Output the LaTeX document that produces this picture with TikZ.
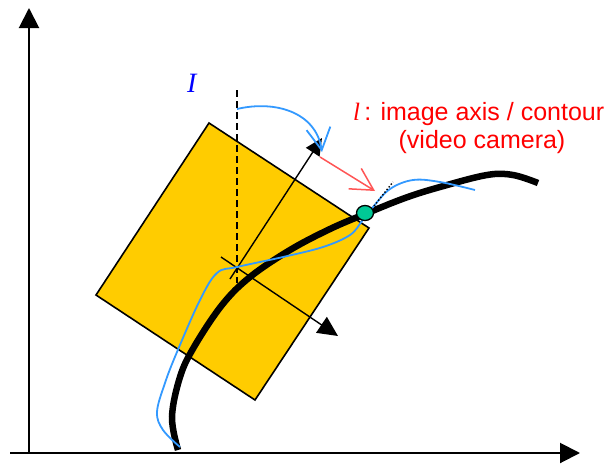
\documentclass[tikz,border=0pt]{standalone}
\usepackage{fontspec}
\setmainfont{Liberation Sans}
\newfontfamily\serifit{Liberation Serif}
\usetikzlibrary{arrows.meta,shapes.geometric}
\definecolor{rectyellow}{HTML}{FFCC00}
\definecolor{curveblue}{HTML}{3399FF}
\definecolor{dotgreen}{HTML}{00C896}
\definecolor{arrred}{HTML}{FF5555}
\begin{document}
\begin{tikzpicture}[x=1pt,y=-1pt,
  mainaxis/.style={line width=2pt,-{Triangle[length=20pt,width=20pt]}},
  camaxis/.style={line width=1.4pt},
  bigcurve/.style={line width=6.5pt},
  bluecurve/.style={curveblue,line width=1.8pt},
  lbl/.style={inner sep=0pt,font=\fontsize{25}{30}\selectfont}]
\useasboundingbox (0,0) rectangle (610,463);
% main axes
\coordinate (origin) at (29,453);
\coordinate (xstart) at (10,453);
\coordinate (xend) at (580,453);
\coordinate (yend) at (29,8);
\draw[mainaxis] (xstart) -- (xend);
\draw[mainaxis] (origin) -- (yend);
% rotated image plane
\coordinate (rt) at (209,123);
\coordinate (rr) at (369,228);
\coordinate (rb) at (255,400);
\coordinate (rl) at (96,295);
\draw[line width=1.6pt,fill=rectyellow] (rt) -- (rr) -- (rb) -- (rl) -- cycle;
% dashed vertical
\coordinate (dtop) at (237,90);
\coordinate (dbot) at (237,283);
\draw[line width=1.4pt,dash pattern=on 7pt off 4pt] (dtop) -- (dbot);
% camera axes
\coordinate (cross) at (237,268);
\coordinate (ua0) at (230,279);
\coordinate (ua1) at (322,138);
\coordinate (la0) at (221,257);
\coordinate (la1) at (338,336);
\draw[camaxis,-{Triangle[length=17pt,width=16pt]}] (ua0) -- (ua1);
\draw[camaxis,-{Triangle[length=20pt,width=19pt]}] (la0) -- (la1);
% thick contour
\draw[bigcurve] plot[smooth,tension=0.6] coordinates {(178,450) (172,417) (180,377) (194,347) (222,305) (250,277) (290,250) (330,229) (365,214) (405,198) (440,187) (487,175) (513,175) (538,183)};
% blue curve
\draw[bluecurve] plot[smooth,tension=0.6] coordinates {(180,447) (163,430) (157,412) (165,383) (177,352) (200,300) (217,273) (237,267) (283,257) (323,247) (350,235) (362,221) (373,207) (390,189) (413,180) (440,182) (475,190)};
% contact point
\node[draw,line width=1.3pt,fill=dotgreen,ellipse,minimum width=17pt,minimum height=15pt,inner sep=0pt] (pt) at (365,213) {};
% dotted tangent
\coordinate (t0) at (374,206);
\coordinate (t1) at (393,182);
\draw[line width=1.4pt,dotted] (t0) -- (t1);
% red arrow
\coordinate (r0) at (320,157);
\coordinate (r1) at (375,191);
\draw[arrred,line width=1.5pt,-{Straight Barb[length=22pt,width=24pt]}] (r0) -- (r1);
% blue arrow
\coordinate (b0) at (237,109);
\coordinate (b1) at (322,152);
\draw[curveblue,line width=1.8pt,-{Straight Barb[length=22pt,width=24pt]}] (b0) .. controls (275,100) and (316,112) .. (b1);
% labels
\node[lbl,anchor=base west,text=blue,font=\fontsize{28}{30}\selectfont\serifit\itshape] (Ilab) at (187,92) {I};
\node[lbl,anchor=base west,text=red] (llab) at (353,120) {{\serifit\itshape l}\,: image axis / contour};
\node[lbl,anchor=base,text=red] (vlab) at (482,148) {(video camera)};
\end{tikzpicture}
\end{document}
